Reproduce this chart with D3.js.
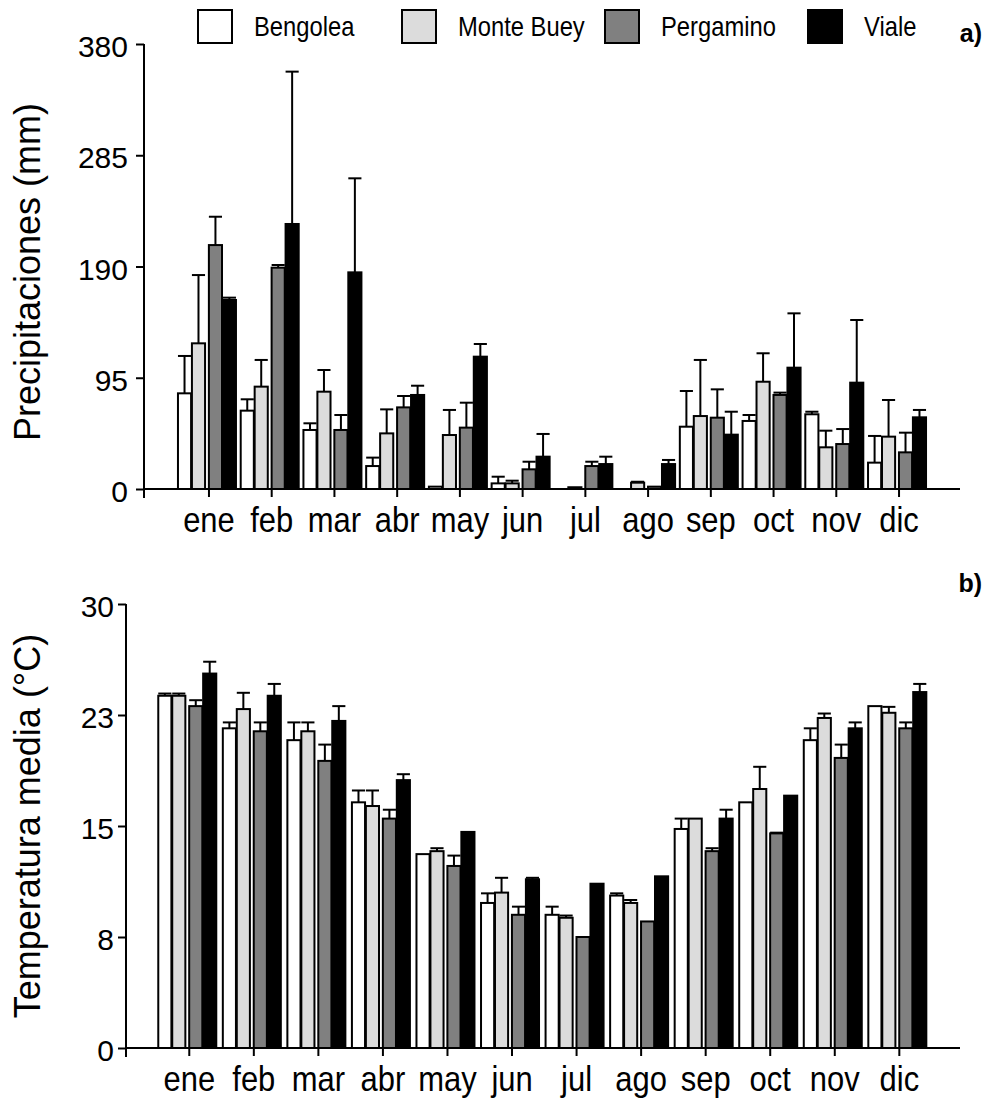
<!DOCTYPE html>
<html>
<head>
<meta charset="utf-8">
<script src="https://cdnjs.cloudflare.com/ajax/libs/d3/7.8.5/d3.min.js"></script>
<style>
  html, body { margin: 0; padding: 0; background: #ffffff; }
  svg { display: block; font-family: "Liberation Sans", Arial, Helvetica, sans-serif; }
</style>
</head>
<body>
<div id="chart"></div>
<script>
// ---------- data ----------
const months = ["ene", "feb", "mar", "abr", "may", "jun", "jul", "ago", "sep", "oct", "nov", "dic"];
const series = ["Bengolea", "Monte Buey", "Pergamino", "Viale"];
const seriesFill = ["#ffffff", "#dcdcdc", "#808080", "#000000"];

// Precipitaciones (mm): mean and upper error (SD)
const precipBengolea     = [81.7, 66.9, 50.4, 19.6, 2.0, 4.8, 0, 0, 53.2, 58.1, 63.8, 22.5];
const precipBengoleaErr  = [31.9, 9.7, 5.7, 7.2, 0, 5.7, 0, 0, 30.5, 5.1, 2.2, 22.8];
const precipMonteBuey    = [124.4, 87.4, 83.1, 47.5, 46.1, 4.8, 1.5, 5.4, 62.3, 91.6, 35.6, 44.7];
const precipMonteBueyErr = [58.3, 22.8, 18.5, 20.5, 21.4, 2.3, 0, 0.8, 47.9, 24.3, 14.2, 31.3];
const precipPergamino    = [208.3, 189.0, 50.4, 69.7, 52.4, 16.8, 19.6, 2.0, 60.9, 80.3, 38.4, 31.3];
const precipPergaminoErr = [24.2, 2.3, 12.8, 9.7, 21.3, 6.5, 3.7, 0, 24.2, 2.0, 12.8, 16.8];
const precipViale        = [161.4, 226.3, 185.0, 80.3, 113.0, 27.6, 21.3, 21.3, 46.4, 103.6, 90.8, 61.2];
const precipVialeErr     = [2.0, 130.1, 80.3, 7.9, 10.8, 19.4, 6.3, 3.5, 19.6, 46.4, 53.5, 6.3];

// Temperatura media (°C): mean and upper error (SD)
const tempBengolea     = [23.8, 21.6, 20.8, 16.6, 13.1, 9.8, 9.0, 10.3, 14.8, 16.6, 20.8, 23.1];
const tempBengoleaErr  = [0.15, 0.4, 1.2, 0.8, 0, 0.65, 0.55, 0.15, 0.7, 0, 0.8, 0];
const tempMonteBuey    = [23.8, 22.9, 21.4, 16.35, 13.3, 10.5, 8.8, 9.8, 15.5, 17.5, 22.3, 22.65];
const tempMonteBueyErr = [0.15, 1.1, 0.6, 1.05, 0.2, 1.0, 0.15, 0.2, 0, 1.5, 0.3, 0.4];
const tempPergamino    = [23.1, 21.4, 19.4, 15.5, 12.3, 9.0, 7.5, 8.55, 13.3, 14.5, 19.6, 21.6];
const tempPergaminoErr = [0.4, 0.6, 1.1, 0.6, 0.7, 0.55, 0, 0, 0.2, 0.05, 0.9, 0.4];
const tempViale        = [25.3, 23.8, 22.1, 18.1, 14.6, 11.4, 11.1, 11.6, 15.5, 17.05, 21.6, 24.05];
const tempVialeErr     = [0.8, 0.8, 1.0, 0.4, 0, 0.1, 0, 0, 0.6, 0, 0.4, 0.55];

const precipTicks = [0, 95, 190, 285, 380];
const precipTickLabels = ["0", "95", "190", "285", "380"];
const tempTicks = [0, 7.5, 15, 22.5, 30];
const tempTickLabels = ["0", "8", "15", "23", "30"];

// ---------- drawing ----------
const W = 992, H = 1099;
const FONT = "Liberation Sans, Arial, sans-serif";
const svg = d3.select("#chart").append("svg").attr("width", W).attr("height", H);

function buildRows(means, errs) {
  const rows = [];
  months.forEach((m, i) => {
    series.forEach((s, j) => {
      rows.push({ month: m, series: s, si: j, value: means[j][i], err: errs[j][i] });
    });
  });
  return rows;
}

function panel(opts) {
  const { rows, yDomain, yRange, xRange, axisLeftX, axisRightX, ticks, tickLabels,
          yLabelX, ytitle, ytitleY, tickLabelOffset, panelTag, tagY } = opts;
  const g = svg.append("g");
  const y = d3.scaleLinear().domain(yDomain).range(yRange);
  const x0 = d3.scaleBand().domain(months).range(xRange).paddingInner(0).paddingOuter(0);
  const x1 = d3.scaleBand().domain(series).range([-31, 24]).paddingInner(0.06);
  const gap = 3;
  const cx = m => x0(m) + x0.bandwidth() / 2;
  const bx = d => cx(d.month) + x1(d.series) + (d.si >= 2 ? gap : 0);
  const base = y(0);

  // bars
  g.selectAll("rect.bar").data(rows).enter().append("rect")
    .attr("class", "bar")
    .attr("x", bx)
    .attr("y", d => y(d.value))
    .attr("width", x1.bandwidth())
    .attr("height", d => Math.max(0, base - y(d.value)))
    .attr("fill", d => seriesFill[d.si])
    .attr("stroke", "#000")
    .attr("stroke-width", 2);

  // error bars (upper only)
  const eb = rows.filter(d => d.err > 0);
  g.selectAll("line.ev").data(eb).enter().append("line")
    .attr("x1", d => bx(d) + x1.bandwidth() / 2)
    .attr("x2", d => bx(d) + x1.bandwidth() / 2)
    .attr("y1", d => y(d.value))
    .attr("y2", d => y(d.value + d.err))
    .attr("stroke", "#000").attr("stroke-width", 2);
  g.selectAll("line.ec").data(eb).enter().append("line")
    .attr("x1", d => bx(d))
    .attr("x2", d => bx(d) + x1.bandwidth())
    .attr("y1", d => y(d.value + d.err))
    .attr("y2", d => y(d.value + d.err))
    .attr("stroke", "#000").attr("stroke-width", 2);

  // y axis
  const ya = g.append("g").attr("transform", `translate(${axisLeftX},0)`)
    .call(d3.axisLeft(y).tickValues(ticks).tickSize(8).tickSizeOuter(0)
      .tickFormat((d, i) => tickLabels[i]));
  ya.select(".domain").remove();
  ya.selectAll(".tick line").attr("stroke", "#000").attr("stroke-width", 2);
  ya.selectAll(".tick text").attr("x", tickLabelOffset).attr("dy", "12.5px")
    .attr("font-size", 30).attr("fill", "#000").attr("font-family", FONT);
  g.append("line").attr("x1", axisLeftX).attr("x2", axisLeftX)
    .attr("y1", y(yDomain[1])).attr("y2", base + 9)
    .attr("stroke", "#000").attr("stroke-width", 2);

  // x axis
  const xa = g.append("g").attr("transform", `translate(0,${base})`)
    .call(d3.axisBottom(x0).tickSize(8).tickSizeOuter(0));
  xa.select(".domain").remove();
  xa.selectAll(".tick line").attr("stroke", "#000").attr("stroke-width", 2);
  xa.selectAll(".tick text").attr("y", 43).attr("dy", 0)
    .attr("transform", "scale(0.86,1)")
    .attr("font-size", 36).attr("fill", "#000").attr("font-family", FONT);
  g.append("line").attr("x1", axisLeftX).attr("x2", axisRightX)
    .attr("y1", base).attr("y2", base)
    .attr("stroke", "#000").attr("stroke-width", 2);

  // y title
  g.append("text")
    .attr("transform", `translate(${yLabelX},${ytitleY}) rotate(-90)`)
    .attr("text-anchor", "middle")
    .attr("font-size", 36)
    .attr("fill", "#000")
    .text(ytitle);

  // panel tag
  g.append("text").attr("x", 982).attr("y", tagY)
    .attr("text-anchor", "end").attr("font-size", 25).attr("font-weight", "bold")
    .attr("fill", "#000").text(panelTag);
}

panel({
  rows: buildRows([precipBengolea, precipMonteBuey, precipPergamino, precipViale],
                  [precipBengoleaErr, precipMonteBueyErr, precipPergaminoErr, precipVialeErr]),
  yDomain: [0, 380], yRange: [489, 44],
  xRange: [177.6, 930.4],
  axisLeftX: 144, axisRightX: 960,
  ticks: precipTicks, tickLabels: precipTickLabels,
  tickLabelOffset: -16,
  yLabelX: 40, ytitleY: 272,
  ytitle: "Precipitaciones (mm)",
  panelTag: "a)", tagY: 42
});

panel({
  rows: buildRows([tempBengolea, tempMonteBuey, tempPergamino, tempViale],
                  [tempBengoleaErr, tempMonteBueyErr, tempPergaminoErr, tempVialeErr]),
  yDomain: [0, 30], yRange: [1048, 604],
  xRange: [157.0, 931.6],
  axisLeftX: 126, axisRightX: 960,
  ticks: tempTicks, tickLabels: tempTickLabels,
  tickLabelOffset: -12,
  yLabelX: 40, ytitleY: 826,
  ytitle: "Temperatura media (°C)",
  panelTag: "b)", tagY: 592
});

// legend
const legendX = [198, 402, 605, 808];
const lg = svg.append("g");
series.forEach((s, i) => {
  lg.append("rect").attr("x", legendX[i]).attr("y", 10).attr("width", 34).attr("height", 33)
    .attr("fill", seriesFill[i]).attr("stroke", "#000").attr("stroke-width", 2);
  lg.append("text")
    .attr("transform", `translate(${legendX[i] + 56},36) scale(0.88,1)`)
    .attr("font-size", 27).attr("fill", "#000").text(s);
});
</script>
</body>
</html>
